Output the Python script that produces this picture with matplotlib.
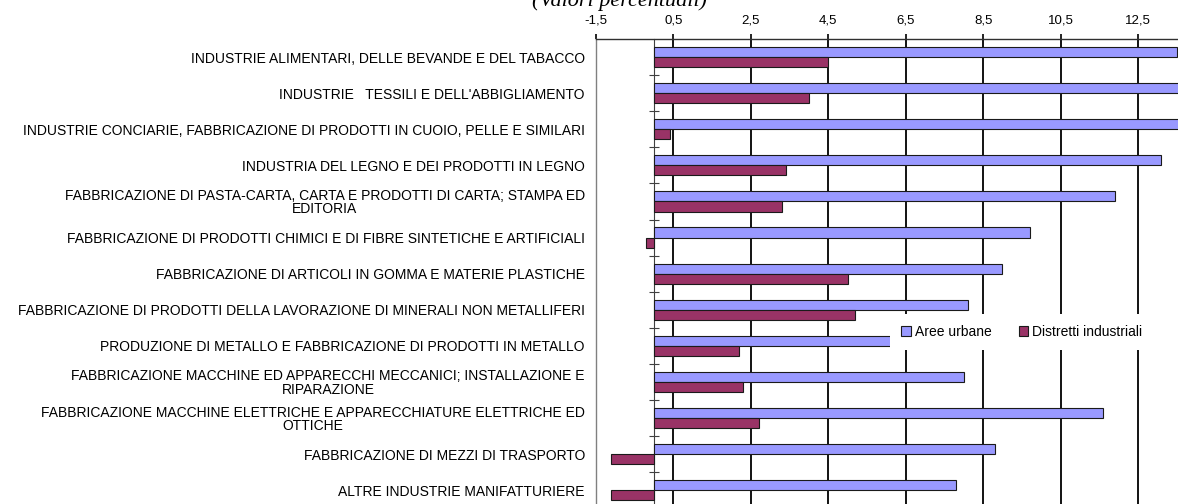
import numpy as np
import matplotlib
matplotlib.use("Agg")
from matplotlib import pyplot as plt

plt.rcParams['font.family'] = ['Liberation Sans', 'DejaVu Sans']

categories = [
    "INDUSTRIE ALIMENTARI, DELLE BEVANDE E DEL TABACCO",
    "INDUSTRIE   TESSILI E DELL'ABBIGLIAMENTO",
    "INDUSTRIE CONCIARIE, FABBRICAZIONE DI PRODOTTI IN CUOIO, PELLE E SIMILARI",
    "INDUSTRIA DEL LEGNO E DEI PRODOTTI IN LEGNO",
    "FABBRICAZIONE DI PASTA-CARTA, CARTA E PRODOTTI DI CARTA; STAMPA ED\nEDITORIA",
    "FABBRICAZIONE DI PRODOTTI CHIMICI E DI FIBRE SINTETICHE E ARTIFICIALI",
    "FABBRICAZIONE DI ARTICOLI IN GOMMA E MATERIE PLASTICHE",
    "FABBRICAZIONE DI PRODOTTI DELLA LAVORAZIONE DI MINERALI NON METALLIFERI",
    "PRODUZIONE DI METALLO E FABBRICAZIONE DI PRODOTTI IN METALLO",
    "FABBRICAZIONE MACCHINE ED APPARECCHI MECCANICI; INSTALLAZIONE E\nRIPARAZIONE",
    "FABBRICAZIONE MACCHINE ELETTRICHE E APPARECCHIATURE ELETTRICHE ED\nOTTICHE",
    "FABBRICAZIONE DI MEZZI DI TRASPORTO",
    "ALTRE INDUSTRIE MANIFATTURIERE",
]
aree_urbane = [13.5, 14.0, 14.0, 13.1, 11.9, 9.7, 9.0, 8.1, 6.3, 8.0, 11.6, 8.8, 7.8]
distretti = [4.5, 4.0, 0.4, 3.4, 3.3, -0.2, 5.0, 5.2, 2.2, 2.3, 2.7, -1.1, -1.1]
x_ticks = [-1.5, 0.5, 2.5, 4.5, 6.5, 8.5, 10.5, 12.5]
x_labels = ["-1,5", "0,5", "2,5", "4,5", "6,5", "8,5", "10,5", "12,5"]

W, H = 1178, 504
fig = plt.figure(figsize=(W / 100, H / 100), dpi=100)
xmin, xmax = -1.5, 14.5
unit = 38.71
ax = fig.add_axes([596 / W, (504 - 508.3) / H, (xmax - xmin) * unit / W, 469.3 / H])

y = np.arange(len(categories))
ax.barh(y - 0.14, aree_urbane, height=0.28, color='#9999FF', edgecolor='#1a1a1a',
        linewidth=0.8, label='Aree urbane', zorder=2)
ax.barh(y + 0.14, distretti, height=0.28, color='#993366', edgecolor='#1a1a1a',
        linewidth=0.8, label='Distretti industriali', zorder=2)

ax.set_xlim(xmin, xmax)
ax.set_ylim(len(categories) - 0.5, -0.5)

ax.xaxis.tick_top()
ax.set_xticks(x_ticks)
ax.set_xticklabels(x_labels, fontsize=9.5)
ax.tick_params(axis='x', direction='out', length=3.6, width=1.2, pad=5.5, color='black')
ax.grid(axis='x', color='black', linewidth=1.3)
ax.set_axisbelow(True)
ax.get_xgridlines()[0].set_visible(False)

ax.set_yticks(y)
ax.set_yticklabels(categories, fontsize=10, linespacing=0.95)
for lbl in ax.get_yticklabels():
    lbl.set_multialignment('center')
ax.tick_params(axis='y', length=0, pad=8)

for side in ['right', 'bottom']:
    ax.spines[side].set_visible(False)
ax.spines['left'].set_color('#808080')
ax.spines['left'].set_linewidth(1.0)
ax.spines['top'].set_color('#303030')
ax.spines['top'].set_linewidth(1.0)

# asse verticale sullo zero con tacche a croce
secax = ax.secondary_yaxis((0 - xmin) / (xmax - xmin))
secax.set_yticks(y[:-1] + 0.5)
secax.set_yticklabels([])
secax.tick_params(direction='inout', length=7, width=0.8, color='#404040')
secax.spines['left'].set_color('#404040')
secax.spines['left'].set_linewidth(0.8)

fig.text(619 / W, 1 - 6 / H, "(Valori percentuali)", ha='center', va='baseline',
         fontsize=16, fontstyle='italic', family='Liberation Serif')

fig.legend(loc='center', bbox_to_anchor=(1022 / W, 1 - 332 / H), ncol=2, frameon=True,
           fancybox=False, edgecolor='none', facecolor='white', framealpha=1,
           handlelength=0.65, handleheight=0.65, handletextpad=0.3,
           columnspacing=2.0, borderpad=0.8, fontsize=10)

fig.savefig("out.png", dpi=100)
